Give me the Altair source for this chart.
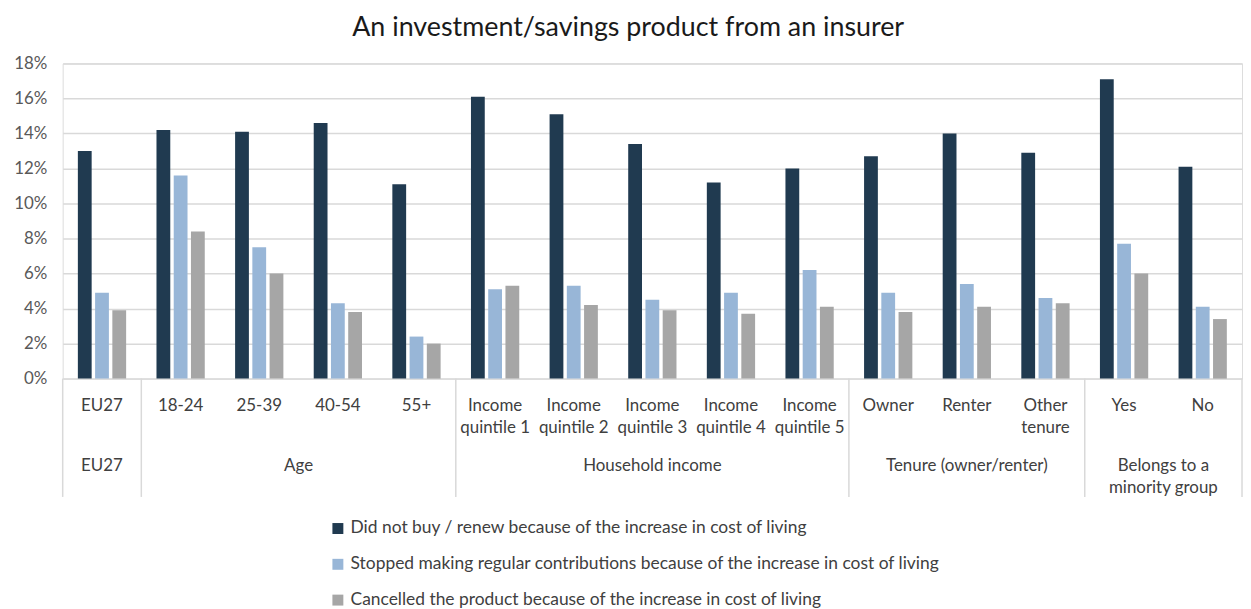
import altair as alt
import pandas as pd

# ---- data ----
categories = ["EU27", "18-24", "25-39", "40-54", "55+",
              "Income\nquintile 1", "Income\nquintile 2", "Income\nquintile 3",
              "Income\nquintile 4", "Income\nquintile 5",
              "Owner", "Renter", "Other\ntenure", "Yes", "No"]
groups = ["EU27", "Age", "Age", "Age", "Age",
          "Household income", "Household income", "Household income",
          "Household income", "Household income",
          "Tenure (owner/renter)", "Tenure (owner/renter)", "Tenure (owner/renter)",
          "Belongs to a\nminority group", "Belongs to a\nminority group"]
series_names = [
    "Did not buy / renew because of the increase in cost of living",
    "Stopped making regular contributions because of the increase in cost of living",
    "Cancelled the product because of the increase in cost of living",
]
did_not_buy = [13.0, 14.2, 14.1, 14.6, 11.1, 16.1, 15.1, 13.4, 11.2, 12.0, 12.7, 14.0, 12.9, 17.1, 12.1]
stopped_contrib = [4.9, 11.6, 7.5, 4.3, 2.4, 5.1, 5.3, 4.5, 4.9, 6.2, 4.9, 5.4, 4.6, 7.7, 4.1]
cancelled = [3.9, 8.4, 6.0, 3.8, 2.0, 5.3, 4.2, 3.9, 3.7, 4.1, 3.8, 4.1, 4.3, 6.0, 3.4]
y_ticks = [0, 0.02, 0.04, 0.06, 0.08, 0.10, 0.12, 0.14, 0.16, 0.18]
colors = ["#203A50", "#98B6D7", "#A6A6A6"]

# ---- tables ----
rows = []
for name, vals in zip(series_names, [did_not_buy, stopped_contrib, cancelled]):
    for c, v in zip(categories, vals):
        rows.append({"cat": c, "series": name, "value": v / 100})
bars_df = pd.DataFrame(rows)
cat_df = pd.DataFrame({"cat": categories})

group_order = []
for g in groups:
    if g not in group_order:
        group_order.append(g)
odd_rows, even_rows, first_rows = [], [], []
for g in group_order:
    members = [c for c, gg in zip(categories, groups) if gg == g]
    first_rows.append({"cat": members[0]})
    n = len(members)
    if n % 2 == 1:
        odd_rows.append({"cat": members[n // 2], "label": g})
    else:
        even_rows.append({"cat": members[n // 2 - 1], "label": g})
odd_df = pd.DataFrame(odd_rows)
even_df = pd.DataFrame(even_rows)
first_df = pd.DataFrame(first_rows)
last_df = pd.DataFrame({"cat": [categories[-1]]})

W, H = 1186, 317
FONT = "Lato"
TXT = "#404040"
GRID = "#D9D9D9"
FS = 17

xscale = alt.Scale(paddingInner=0, paddingOuter=0)

bars = alt.Chart(bars_df).mark_bar().encode(
    x=alt.X("cat:N", sort=categories, scale=xscale, axis=None),
    xOffset=alt.XOffset("series:N", sort=series_names,
                        scale=alt.Scale(paddingInner=0.2, paddingOuter=0.88)),
    y=alt.Y("value:Q", scale=alt.Scale(domain=[0, 0.18], nice=False),
            axis=alt.Axis(values=y_ticks, format=".0%", title=None, grid=True,
                          gridColor=GRID, gridWidth=1.5, domain=False, ticks=False,
                          labelFont=FONT, labelFontSize=FS, labelColor="#595959",
                          labelPadding=16)),
    color=alt.Color("series:N", sort=series_names,
                    scale=alt.Scale(domain=series_names, range=colors),
                    legend=alt.Legend(title=None, orient="none", legendX=268, legendY=459,
                                      direction="vertical", symbolType="square",
                                      symbolSize=121, symbolStrokeWidth=0,
                                      labelFont=FONT, labelFontSize=17.5, labelColor=TXT,
                                      labelOffset=4, rowPadding=17, labelLimit=800)),
)

cat_text = alt.Chart(cat_df).mark_text(
    lineBreak="\n", baseline="top", align="center", font=FONT, fontSize=FS,
    color=TXT, lineHeight=22,
).encode(
    x=alt.X("cat:N", sort=categories, scale=xscale, axis=None),
    y=alt.value(H + 20),
    text="cat:N",
)

grp_odd = alt.Chart(odd_df).mark_text(
    lineBreak="\n", baseline="top", align="center", font=FONT, fontSize=FS,
    color=TXT, lineHeight=22,
).encode(
    x=alt.X("cat:N", sort=categories, scale=xscale, axis=None),
    y=alt.value(H + 80),
    text="label:N",
)

grp_even = alt.Chart(even_df).mark_text(
    lineBreak="\n", baseline="top", align="center", font=FONT, fontSize=FS,
    color=TXT, lineHeight=22,
).encode(
    x=alt.X("cat:N", sort=categories, scale=xscale, axis=None, bandPosition=1),
    y=alt.value(H + 80),
    text="label:N",
)

sep_first = alt.Chart(first_df).mark_rule(color=GRID, strokeWidth=1.5).encode(
    x=alt.X("cat:N", sort=categories, scale=xscale, axis=None, bandPosition=0),
    y=alt.value(H),
    y2=alt.value(H + 119),
)
sep_last = alt.Chart(last_df).mark_rule(color=GRID, strokeWidth=1.5).encode(
    x=alt.X("cat:N", sort=categories, scale=xscale, axis=None, bandPosition=1),
    y=alt.value(H),
    y2=alt.value(H + 119),
)

chart = alt.layer(bars, cat_text, grp_odd, grp_even, sep_first, sep_last).properties(
    width=W, height=H,
    title=alt.TitleParams("An investment/savings product from an insurer",
                          font=FONT, fontSize=27, fontWeight="normal", color="#1a1a1a",
                          anchor="middle", frame="bounds", offset=13),
    padding={"left": 5, "top": 4, "right": 0, "bottom": 0},
).configure_view(stroke=None).configure(background="white")

chart.save("out.html", embed_options={"renderer": "svg", "actions": False})
